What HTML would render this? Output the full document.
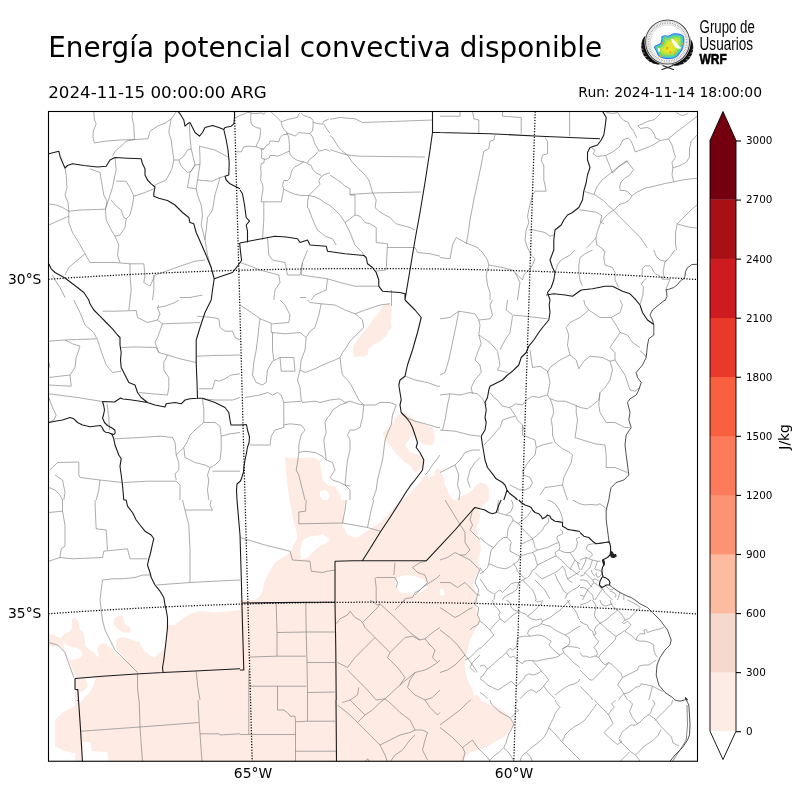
<!DOCTYPE html>
<html><head><meta charset="utf-8"><style>
html,body{margin:0;padding:0;background:#fff;width:800px;height:800px;overflow:hidden}
svg{display:block}
text{font-family:"DejaVu Sans","Liberation Sans",sans-serif;fill:#000}
</style></head><body>
<svg width="800" height="800" viewBox="0 0 800 800">
<rect width="800" height="800" fill="#fff"/>
<text x="48.2" y="56.6" font-size="27.83">Energía potencial convectiva disponible</text>
<text x="48.2" y="97.6" font-size="16.70">2024-11-15 00:00:00 ARG</text>
<text x="762" y="97" font-size="13.93" text-anchor="end">Run: 2024-11-14 18:00:00</text>
<defs><clipPath id="mc"><rect x="48.5" y="111.5" width="649" height="649.75"/></clipPath></defs>
<g clip-path="url(#mc)">
<path fill="#fdebe4" stroke="none" d="M290.0,500.0 L322.5,500.0 L322.5,502.5 L340.0,502.5 L342.5,500.0 L345.0,500.0 L342.5,523.8 L350.0,535.0 L357.5,537.5 L365.0,532.5 L375.0,530.0 L380.0,525.0 L390.0,512.5 L400.0,500.0 L440.0,500.0 L440.0,700.0 L240.0,700.0 L240.0,610.0 L245.0,607.5 L255.0,600.0 L261.2,595.0 L265.0,580.0 L272.5,567.5 L281.2,558.8 L290.0,552.5 L297.5,537.5 L295.0,525.0 L292.5,510.0Z M440.0,500.0 L487.5,500.0 L480.0,507.5 L475.0,512.5 L477.5,525.0 L475.0,532.5 L480.0,540.0 L481.2,550.0 L477.5,560.0 L480.0,570.0 L476.2,575.0 L472.5,585.0 L475.0,590.0 L477.5,600.0 L475.0,605.0 L477.5,612.5 L480.0,622.5 L475.0,630.0 L470.0,640.0 L467.5,650.0 L465.0,660.0 L465.0,670.0 L467.5,680.0 L472.5,690.0 L475.0,700.0 L440.0,700.0Z M166.2,625.0 L175.0,625.0 L182.5,618.8 L190.0,613.8 L200.0,611.2 L215.0,612.5 L230.0,611.2 L240.0,610.0 L240.0,668.8 L162.5,672.5 L165.0,650.0 L167.5,637.5Z M75.0,678.0 L162.5,672.5 L240.0,668.8 L240.0,762.0 L115.0,762.0 L107.5,757.5 L100.0,750.0 L92.5,740.0 L82.5,732.5 L81.2,730.0 L80.0,700.0 L83.8,696.2 L90.0,687.5 L93.8,678.0Z M55.0,720.0 L62.5,712.5 L70.0,708.8 L77.5,703.8 L80.0,705.0 L81.2,752.5 L72.5,753.0 L62.5,750.0 L55.0,746.2Z M240.0,600.0 L440.0,600.0 L440.0,762.0 L240.0,762.0Z M440.0,699.5 L477.5,695.0 L481.2,700.0 L490.0,705.0 L497.5,707.5 L505.0,712.5 L510.0,717.5 L512.5,722.5 L515.0,725.0 L510.0,730.0 L505.0,736.2 L497.5,740.0 L490.0,745.0 L485.0,747.5 L477.5,750.0 L470.0,752.5 L465.0,757.5 L463.8,762.0 L440.0,762.0Z M285.0,457.5 L297.5,458.0 L315.0,457.5 L320.0,461.2 L321.2,470.0 L322.5,480.0 L327.5,485.0 L335.0,486.2 L340.0,495.0 L342.5,505.0 L343.8,520.0 L342.5,527.5 L350.0,535.0 L357.5,537.5 L365.0,532.5 L372.5,527.5 L380.0,522.5 L390.0,512.5 L400.0,502.5 L410.0,492.5 L420.0,482.5 L425.0,475.0 L430.0,477.5 L440.0,472.5 L440.0,600.0 L262.5,600.0 L263.8,587.5 L267.5,575.0 L275.0,562.5 L282.5,557.5 L290.0,552.5 L295.0,550.0 L297.5,540.0 L298.8,525.0 L293.8,522.5 L291.2,510.0 L288.8,495.0 L286.2,475.0Z M382.5,432.5 L390.0,427.5 L397.5,415.0 L405.0,412.5 L415.0,420.0 L425.0,425.0 L432.5,427.5 L435.0,437.5 L432.5,445.0 L426.2,445.0 L420.0,442.5 L415.0,435.0 L410.0,437.5 L405.0,445.0 L410.0,452.5 L420.0,455.0 L425.0,462.5 L420.0,470.0 L415.0,472.5 L410.0,465.0 L405.0,462.5 L400.0,457.5 L395.0,452.5 L390.0,445.0 L385.0,440.0Z M75.0,678.5 L240.0,669.0 L240.0,762.0 L75.0,762.0Z M382.0,306.5 L389.0,303.0 L391.5,306.0 L391.5,319.0 L390.0,321.0 L392.0,327.0 L388.0,331.0 L387.0,335.0 L380.0,342.0 L374.0,344.0 L368.0,350.0 L368.0,354.0 L365.0,356.5 L354.0,356.5 L353.0,352.0 L353.0,346.0 L356.0,342.0 L360.0,336.0 L364.0,332.0 L368.0,327.0 L372.0,321.0 L376.0,316.0 L380.0,311.0Z M420.0,482.5 L425.0,483.1 L430.0,481.9 L433.8,477.5 L435.0,471.2 L437.5,467.5 L440.0,471.2 L442.5,475.0 L445.0,480.0 L443.8,483.8 L446.2,487.5 L448.8,493.8 L451.2,497.5 L453.8,501.2 L457.5,498.8 L461.2,496.2 L467.5,493.8 L472.5,490.0 L476.2,485.0 L480.0,482.5 L485.0,483.8 L488.8,487.5 L488.8,493.8 L488.8,500.0 L485.0,503.8 L481.2,507.5 L478.8,510.0 L480.0,515.0 L478.8,521.2 L476.2,527.5 L477.5,533.8 L478.8,540.0 L420.0,540.0Z M48.8,634.0 L54.0,634.8 L57.0,637.0 L61.5,637.8 L64.5,634.0 L70.5,631.0 L72.0,626.5 L72.0,619.0 L75.8,617.5 L79.5,623.5 L78.8,626.5 L80.2,629.5 L84.0,634.0 L84.8,640.0 L85.5,646.0 L88.5,649.0 L93.0,652.0 L96.0,655.0 L97.5,658.0 L99.0,655.0 L97.5,649.0 L99.0,644.5 L105.0,643.0 L108.0,646.0 L112.5,649.0 L114.0,652.0 L117.0,655.0 L123.0,658.0 L129.0,662.5 L133.5,667.0 L138.0,671.5 L138.0,673.8 L75.0,677.8 L72.8,670.0 L70.5,664.0 L67.5,658.0 L64.5,653.5 L61.5,647.5 L57.0,646.0 L52.5,646.8 L48.8,646.0Z M114.0,619.0 L118.5,616.0 L123.0,616.0 L124.5,623.5 L130.5,628.0 L130.5,632.5 L123.0,632.5 L118.5,629.5 L114.0,625.0Z M117.0,638.5 L123.0,637.0 L129.0,638.5 L135.0,641.5 L139.5,641.5 L141.0,646.0 L144.0,650.5 L150.0,655.0 L154.5,658.0 L159.0,653.5 L164.2,649.0 L164.2,671.8 L138.0,673.0 L129.0,662.5 L121.5,655.0 L117.0,650.5 L115.5,646.0Z"/>
<path fill="#fff" stroke="none" d="M301.2,560.0 L300.0,550.0 L302.5,540.0 L315.0,537.5 L322.5,533.8 L330.0,540.0 L322.5,543.8 L315.0,550.0 L307.5,557.5Z M396.2,580.0 L402.5,576.2 L412.5,577.5 L420.0,582.5 L423.8,590.0 L415.0,595.0 L405.0,592.5 L397.5,590.0Z M440.0,588.8 L443.8,590.0 L445.0,593.8 L442.5,596.2 L440.0,595.0Z M320.0,491.2 L326.2,490.0 L330.0,495.0 L327.5,500.0 L322.5,500.0 L320.0,496.2Z M302.5,540.0 L310.0,536.2 L320.0,535.0 L328.8,537.5 L327.5,542.5 L322.5,545.0 L315.0,547.5 L307.5,552.5 L300.0,557.5 L301.2,547.5Z M342.5,525.0 L350.0,523.8 L357.5,527.5 L365.0,528.8 L360.0,533.8 L355.0,537.5 L347.5,535.0Z M397.5,577.5 L405.0,575.0 L415.0,576.2 L425.0,580.0 L427.5,587.5 L420.0,592.5 L410.0,593.8 L400.0,592.5 L395.0,585.0Z M85.3,678.1 L96.0,678.1 L93.8,684.6 L90.4,691.4 L84.8,697.0 L79.7,703.8 L78.6,692.5 L84.2,690.8 L87.6,685.8Z M82.5,742.0 L90.4,742.0 L91.5,751.0 L107.2,752.0 L108.4,762.0 L82.5,762.0Z M63.0,640.8 L66.8,645.2 L70.5,646.8 L78.0,648.2 L82.8,652.3 L81.3,657.7 L75.3,659.2 L72.0,660.2 L67.8,657.7 L64.8,652.3Z"/>
<path fill="none" stroke="#737373" stroke-width="0.6" stroke-linejoin="round" d="M93.8,112.0 L94.5,120.0 L96.2,123.8 L93.2,131.2 L93.0,137.5 L94.5,143.0 L105.0,141.2 L120.0,140.0 L134.5,139.5 L148.0,138.8 M132.5,112.0 L132.0,117.5 L133.8,125.0 L134.5,139.5 M148.0,138.8 L150.0,131.2 L157.5,126.2 L166.2,122.5 L171.2,118.8 L176.2,112.0 M171.2,118.8 L169.5,127.5 L168.8,132.5 L171.2,140.0 L172.5,150.0 L173.8,160.0 L172.0,168.8 L166.2,180.0 L157.5,183.8 L153.8,186.2 M173.8,160.0 L178.8,160.0 L183.8,156.2 L187.5,150.0 L191.2,148.8 L193.8,160.0 L195.0,165.0 M178.8,160.0 L181.2,166.2 L187.5,172.5 L191.2,171.2 L195.0,165.0 M189.5,123.8 L190.0,137.5 L191.2,148.8 M195.0,165.0 L200.0,164.5 L200.0,157.5 L199.5,146.2 M199.5,146.2 L215.0,150.0 L228.8,157.5 M200.0,164.5 L197.5,180.0 L212.5,181.2 L220.0,177.5 L225.0,176.2 M195.0,165.0 L190.0,172.5 L187.5,187.5 L196.2,188.8 L197.5,180.0 M196.2,188.8 L197.5,195.0 L201.2,205.0 L202.5,215.0 L201.2,225.0 L203.8,235.0 L205.0,240.0 M220.0,177.5 L215.0,195.0 L212.5,210.0 L207.5,217.5 L206.2,230.0 L205.0,240.0 L207.5,255.0 L211.2,267.5 M65.0,168.0 L66.2,175.0 L67.0,187.5 L65.0,195.0 L68.0,202.5 L68.8,211.2 M48.8,203.8 L56.2,205.0 L62.5,207.5 L68.8,211.2 L80.0,210.0 L105.5,209.2 M48.8,225.0 L60.0,220.0 L68.8,216.2 M68.8,211.2 L68.8,222.5 L72.5,232.5 L78.8,242.5 L85.0,253.8 L90.0,262.5 L115.0,262.5 L130.0,263.8 L143.8,263.8 M85.0,253.8 L77.5,260.0 L68.8,267.5 L65.0,275.0 M90.0,168.8 L100.0,172.5 L102.0,185.0 L103.8,195.0 L107.0,201.2 L105.5,209.2 M115.0,157.5 L116.2,170.0 L115.0,175.0 L112.5,187.5 L108.8,198.8 L105.5,209.2 L106.2,220.0 L111.2,230.0 L115.0,236.2 L118.8,245.0 L117.5,255.0 L120.0,262.5 M116.2,181.2 L126.2,181.2 L131.2,190.0 L133.8,196.2 L132.5,205.0 L130.0,215.0 L126.2,218.8 M111.2,200.0 L115.0,205.0 L121.2,210.0 L123.8,217.5 L126.2,218.8 L125.0,227.5 L120.0,235.0 L115.0,236.2 M133.8,196.2 L145.0,192.5 L153.8,188.8 M130.0,263.8 L130.0,275.0 L131.2,290.0 L130.0,300.0 M143.8,263.8 L145.0,275.0 L143.8,282.5 L150.0,286.2 L155.0,275.0 L162.5,272.5 M162.5,272.5 L180.0,266.2 L195.0,261.2 L205.0,260.0 M153.8,275.0 L153.8,290.0 L152.5,300.0 M180.0,297.5 L190.0,297.5 L202.5,295.0 M52.5,275.0 L55.0,280.0 L60.0,287.5 L65.0,297.5 M112.5,156.2 L115.0,151.2 L122.5,145.0 L126.2,141.2 L134.5,139.5 M330.0,119.3 L340.0,117.5 L355.0,118.8 L362.5,122.5 L400.0,121.2 L432.5,120.0 M330.0,135.8 L332.5,137.5 L338.8,147.5 L342.5,151.2 L347.5,155.0 M330.0,149.6 L338.8,152.5 L347.5,155.0 M347.5,155.0 L360.0,156.2 L425.0,157.0 M347.5,155.0 L352.5,162.5 L357.5,167.5 L365.0,175.0 L368.8,180.0 L371.2,187.5 L372.5,192.5 L376.2,200.0 L375.0,207.5 L378.8,211.2 L385.0,215.0 L390.0,217.5 L396.2,223.8 L410.0,227.5 L415.0,230.0 M350.0,194.5 L372.5,193.0 L421.2,192.0 M330.0,175.0 L337.5,180.0 L341.2,182.5 L345.0,186.2 L350.0,188.8 L350.0,195.0 M330.0,205.9 L332.5,207.5 L340.0,215.0 L345.0,222.5 M308.5,208.0 L310.0,212.5 L313.8,222.5 L317.5,230.0 L325.0,236.2 L332.5,238.8 L336.2,245.0 M350.0,195.0 L355.0,195.0 L355.0,215.0 L345.0,222.5 M345.0,222.5 L350.0,232.5 L355.0,245.0 L362.5,252.5 L363.8,255.5 M355.0,215.0 L360.0,216.2 L365.0,222.5 L370.0,223.8 L376.2,227.5 L376.2,242.5 L387.5,243.8 L386.2,270.0 L375.0,271.2 M387.5,247.5 L415.0,247.5 M415.0,247.5 L417.5,252.5 L430.0,253.8 L440.0,256.2 M263.8,208.0 L263.8,220.0 L262.5,240.0 M267.5,237.5 L268.8,255.0 L272.5,260.0 L285.0,262.5 L287.5,275.0 L300.0,275.0 L302.5,262.5 L307.5,250.0 M302.5,262.5 L301.2,275.0 M240.0,262.5 L247.5,265.0 L260.0,270.0 L278.8,275.0 L280.0,282.5 L275.0,290.0 L273.8,300.0 M301.2,275.0 L327.5,278.8 L340.0,282.5 L355.0,286.2 L378.8,286.2 M327.5,278.8 L326.2,290.0 L315.0,295.0 L311.2,300.0 M300.0,297.5 L306.2,297.5 M440.0,116.2 L460.0,116.2 L460.0,111.2 M472.5,111.2 L473.8,118.8 L478.8,120.0 L478.8,133.8 M502.5,111.2 L502.5,116.2 L521.2,117.5 L521.2,133.8 M495.0,135.0 L493.8,140.0 L490.0,141.2 L488.8,148.8 L483.8,151.2 L481.2,165.0 L477.5,182.5 L473.8,200.0 L470.0,220.0 L467.5,237.5 L466.2,243.8 M545.0,137.5 L547.5,141.2 L547.5,153.8 L542.5,155.0 L541.2,161.2 L543.8,165.0 L543.8,180.0 L545.0,185.0 L546.2,191.2 L535.0,191.2 L532.5,195.0 L530.0,205.0 L528.8,210.0 L527.5,216.2 L528.8,222.5 L526.2,230.0 L525.0,240.0 L527.5,247.5 L531.2,255.0 L535.0,258.8 L532.5,265.0 L528.8,270.0 M528.8,230.0 L533.8,230.0 L545.0,232.5 L550.0,236.2 L553.8,235.0 M440.0,257.5 L450.0,258.8 L452.5,245.0 L456.2,237.5 L465.0,242.5 L477.5,247.5 L482.5,252.5 L487.5,260.0 L488.8,265.0 L502.5,267.5 L512.5,270.0 L522.5,280.0 L523.8,275.0 L528.8,270.0 M488.8,265.0 L486.2,275.0 L487.5,285.0 L490.0,292.5 L490.0,300.0 M515.0,272.5 L520.0,282.5 L518.8,290.0 L517.5,300.0 M575.0,250.0 L570.0,255.0 L561.2,260.0 L557.5,265.0 L555.0,272.5 M592.5,250.0 L585.0,253.8 L580.0,257.5 L578.8,265.0 L578.8,272.5 L580.0,280.0 L582.5,286.2 M602.5,250.0 L605.0,251.2 L603.8,257.5 L605.0,265.0 L612.5,267.5 L615.0,272.5 L615.0,280.0 L618.8,287.5 M653.8,250.0 L656.2,256.2 L660.0,260.0 L665.0,261.2 L667.5,260.0 M667.5,260.0 L675.0,250.0 M667.5,260.0 L664.8,262.0 L664.0,267.0 L663.2,271.8 L664.0,277.0 L662.5,279.2 L670.0,279.2 L668.5,283.0 L665.9,289.8 M640.0,276.2 L642.2,274.0 L642.2,268.8 L645.2,265.8 L649.8,265.8 L652.0,268.0 L653.5,271.8 L655.8,274.0 L659.5,275.9 L662.5,279.2 M646.8,277.8 L643.0,281.5 L641.5,284.5 L643.4,286.8 L643.0,295.0 L640.8,301.8 L640.0,304.0 M73.8,300.0 L80.0,312.5 L85.0,325.0 L93.8,332.5 L97.5,340.0 L100.0,347.5 L102.5,355.0 L106.2,365.0 L112.5,372.5 L121.2,371.2 M130.0,300.0 L128.8,310.0 M102.5,311.2 L115.0,311.2 L136.2,310.5 L137.5,317.5 L142.5,320.0 L147.5,322.5 L157.5,320.0 L160.0,313.8 L157.5,307.5 L158.8,305.0 M157.5,307.5 L165.0,306.2 L175.0,302.5 L178.8,300.0 M157.5,320.0 L162.5,323.8 L200.0,322.5 M162.5,323.8 L161.2,327.5 L157.5,337.5 L155.0,342.5 L158.8,352.5 L167.5,355.0 L180.0,358.8 L196.2,362.5 M121.2,347.5 L135.0,347.0 L156.2,347.5 L158.8,352.5 M167.5,355.0 L163.8,362.5 L163.8,370.0 L168.8,377.5 L168.8,387.5 L167.5,395.0 M138.8,392.5 L152.5,393.8 L167.5,395.0 M48.8,341.2 L65.0,340.0 L96.2,338.8 M65.0,340.0 L72.5,343.8 L80.0,346.2 L76.2,357.5 L75.0,367.5 L70.0,375.0 L48.8,377.5 M70.0,375.0 L71.2,386.2 L48.8,385.0 M48.8,362.5 L50.0,367.5 M48.8,393.8 L77.5,397.5 L102.2,401.5 M48.8,397.5 L52.5,407.5 L56.2,415.0 L53.8,420.0 L48.8,422.5 M196.2,356.2 L215.0,355.5 L240.0,355.0 M197.5,316.2 L212.5,317.5 L218.8,318.8 L220.0,327.5 L225.0,331.2 L232.5,331.2 L235.0,337.5 L240.0,340.0 M198.8,388.8 L212.5,388.8 L215.0,380.0 L218.8,381.2 L225.0,378.8 L231.2,375.0 L240.0,373.8 M202.5,398.8 L215.0,400.0 L232.5,400.0 L240.0,397.5 M202.5,398.2 L203.8,410.0 L203.8,422.5 L195.0,430.0 L190.0,435.0 L187.5,441.2 L183.8,447.5 L176.2,455.0 L178.8,462.5 L178.8,470.0 L175.0,473.8 L176.2,480.0 M203.8,422.5 L215.0,422.5 L220.0,426.2 L221.2,436.2 L221.2,450.0 L220.0,460.0 L215.0,465.0 L210.0,467.5 L207.5,475.0 L208.8,480.0 L207.5,490.0 L208.8,500.0 M183.8,447.5 L185.0,457.5 L195.0,462.5 L205.0,465.0 L210.0,467.5 M221.2,436.2 L230.0,433.8 L240.0,432.5 M212.5,471.2 L240.0,471.2 M115.0,438.8 L140.0,437.5 L160.0,436.2 L172.5,437.5 L175.0,442.5 L176.2,455.0 M123.8,482.5 L147.5,481.2 L176.2,481.2 L180.0,485.0 L180.0,500.0 M50.0,470.0 L57.5,462.5 L78.8,462.0 L78.8,475.0 L80.0,477.5 L100.0,480.0 L122.5,482.5 M55.0,475.0 L62.5,480.0 L65.0,492.5 L63.8,500.0 M100.0,480.0 L98.8,490.0 L96.2,500.0 M48.8,487.5 L55.0,490.0 L60.0,495.0 L62.5,500.0 M107.0,403.8 L108.8,417.5 L109.5,430.0 M240.0,305.0 L255.0,315.0 L260.0,318.8 L258.8,327.5 L257.5,340.0 L256.2,350.0 L253.8,362.5 L252.5,375.0 L256.2,382.5 L262.5,385.0 L266.2,382.5 L267.5,370.0 L272.5,361.2 L280.0,357.5 M280.0,300.0 L285.0,305.0 L290.0,315.0 L288.8,322.5 L272.5,323.8 L260.0,318.8 M307.5,300.0 L310.0,302.5 L321.2,303.8 L335.0,305.0 L345.0,310.0 L355.0,313.8 L365.0,310.0 L380.0,305.0 L390.0,303.8 M321.2,303.8 L318.8,315.0 L315.0,327.5 L310.0,331.2 L306.2,337.5 L305.0,350.0 L301.2,360.0 L300.0,370.0 M271.2,323.8 L271.2,332.5 L285.0,333.8 L300.0,332.5 L306.2,337.5 M272.5,332.5 L272.5,350.0 L273.8,360.0 M280.0,357.5 L293.8,357.5 L295.0,371.2 L281.2,371.2 L280.0,357.5 M300.0,370.0 L305.0,372.5 L315.0,368.8 L322.5,365.0 L335.0,360.0 L340.0,357.5 M340.0,357.5 L341.2,367.5 L342.5,375.0 L347.5,380.0 L351.2,385.0 L355.0,392.5 L358.8,400.0 L363.8,405.0 L375.0,405.0 L380.0,402.5 L390.0,402.5 L396.2,405.0 M355.0,313.8 L362.5,320.0 L363.8,327.5 L356.2,335.0 L350.0,341.2 L346.2,347.5 L342.5,352.5 L340.0,357.5 M300.0,370.0 L297.5,380.0 L300.0,387.5 L301.2,400.0 L302.5,402.5 L315.0,401.2 L320.0,402.5 L330.0,400.0 L340.0,398.8 L345.0,402.5 L350.0,401.2 L357.5,403.8 L363.8,405.0 M245.0,397.5 L260.0,395.0 L267.5,392.5 L272.5,395.0 L277.5,392.5 L281.2,395.0 L283.8,402.5 L301.2,401.2 M283.8,402.5 L283.8,415.0 L283.8,427.5 L275.0,430.0 L271.2,436.2 L270.0,445.0 L250.0,445.0 M283.8,425.0 L290.0,423.8 L301.2,425.0 L305.0,430.0 L301.2,435.0 L298.8,445.0 L298.8,452.5 L305.0,451.2 L315.0,452.5 L322.5,456.2 L326.2,460.0 L332.5,462.5 L335.0,470.0 L330.0,477.5 L332.5,480.0 L340.0,482.5 L345.0,485.0 L350.0,486.2 M298.8,452.5 L297.5,462.5 L296.2,470.0 L298.8,475.0 L300.0,480.0 L302.5,490.0 L305.0,500.0 M363.8,405.0 L362.5,417.5 L360.0,427.5 L355.0,430.0 L350.0,430.0 L347.5,435.0 L350.0,440.0 L350.0,450.0 L347.5,460.0 L346.2,472.5 L345.0,485.0 L350.0,490.0 L350.0,500.0 M347.5,402.5 L340.0,405.0 L332.5,410.0 L330.0,415.0 L327.5,417.5 L325.0,422.5 L326.2,432.5 L323.8,440.0 L325.0,450.0 L326.2,460.0 M396.2,405.0 L392.5,415.0 L391.2,425.0 L388.8,430.0 L385.0,440.0 L383.8,450.0 L382.5,460.0 L380.0,470.0 L377.5,480.0 L376.2,490.0 L372.5,500.0 M405.0,376.2 L415.0,380.0 L427.5,382.5 L437.5,386.2 L440.0,386.2 M406.2,417.5 L415.0,421.2 L425.0,423.8 L437.5,427.5 L440.0,427.5 M440.0,455.0 L432.5,465.0 L427.5,472.5 L425.0,475.0 M440.0,318.8 L450.0,317.5 L458.8,311.2 L475.0,313.8 L478.8,320.0 L480.0,325.0 L478.8,335.0 L481.2,343.8 L477.5,352.5 L475.0,360.0 L480.0,365.0 L481.2,372.5 L475.0,380.0 L471.2,387.5 L472.5,393.8 M458.8,311.2 L456.2,325.0 L452.5,342.5 L448.8,360.0 L445.0,372.5 L440.0,375.0 M478.8,320.0 L490.0,318.8 L492.5,315.0 L490.0,305.0 L492.5,300.0 M507.5,300.0 L506.2,310.0 L512.5,315.0 L525.0,316.2 L547.5,318.8 M478.8,335.0 L490.0,342.5 L497.5,351.2 L500.0,365.0 L497.5,370.0 L507.5,372.5 M512.5,316.2 L510.0,332.5 L505.0,340.0 L500.0,350.0 M583.8,300.0 L585.0,305.0 L588.8,310.0 L580.0,317.5 L570.0,322.5 L566.2,327.5 L568.8,335.0 L567.5,345.0 L570.0,355.0 L576.2,360.0 L578.8,368.8 L583.8,361.2 L590.0,356.2 L602.5,357.5 L610.0,361.2 L612.5,370.0 L610.0,380.0 L605.0,387.5 L600.0,392.5 L598.8,400.0 L592.5,405.0 L587.5,408.8 L580.0,407.5 L575.0,405.0 L565.0,401.2 L557.5,401.2 L550.0,398.8 L547.5,395.0 M588.8,310.0 L600.0,317.5 L611.2,317.5 L620.0,312.5 L622.5,305.0 L620.0,300.0 M611.2,317.5 L617.5,327.5 L620.0,332.5 L615.0,340.0 L610.0,347.5 L615.0,352.5 L615.0,360.0 L610.0,361.2 M620.0,332.5 L627.5,335.0 L632.5,342.5 L640.0,347.5 M615.0,360.0 L620.0,367.5 L625.0,375.0 L630.0,390.0 L635.0,391.2 L640.0,387.5 M570.0,355.0 L560.0,360.0 L550.0,367.5 L547.5,372.5 M530.0,350.0 L532.5,367.5 L540.0,366.2 L547.5,371.2 L550.0,382.5 L547.5,395.0 L538.8,397.5 L532.5,396.2 L526.2,400.0 M490.0,392.5 L493.8,397.5 L497.5,400.0 L502.5,406.2 L508.8,407.5 L512.5,406.2 L515.0,403.8 L522.5,405.0 L526.2,400.0 M510.0,407.5 L515.0,415.0 L517.5,420.0 L522.5,425.0 L523.8,430.0 M515.0,416.2 L510.0,417.5 L502.5,420.0 L500.0,427.5 L497.5,430.0 L492.5,436.2 L487.5,441.2 L483.8,445.0 M522.5,425.0 L522.5,435.0 L535.0,440.0 L536.2,447.5 L535.0,455.0 L530.0,460.0 L526.2,465.0 L523.8,470.0 M550.0,398.8 L552.5,405.0 L553.8,412.5 L551.2,420.0 L552.5,427.5 L552.5,435.0 L555.0,442.5 L562.5,448.8 L570.0,452.5 L572.5,455.0 L571.2,462.5 L567.5,470.0 L563.8,477.5 L562.5,485.0 L565.0,492.5 L567.5,500.0 M552.5,442.5 L542.5,445.0 L536.2,447.5 M576.2,405.0 L576.2,412.5 L577.5,420.0 L576.2,430.0 L575.0,437.5 L582.5,440.0 L595.0,443.8 L605.0,445.0 L606.2,455.0 L606.2,467.5 L615.0,467.5 L627.5,472.5 M600.0,392.5 L598.8,405.0 L600.0,412.5 L606.2,422.5 L615.0,422.5 L625.0,427.5 L630.0,427.5 M440.0,395.0 L450.0,393.8 L460.0,395.0 L470.0,392.5 L477.5,393.8 L482.5,398.8 L486.2,405.0 M450.0,393.8 L447.5,405.0 L445.0,420.0 L442.5,430.0 M440.0,430.0 L455.0,431.2 L470.0,435.0 L480.0,436.2 M480.0,450.0 L472.5,450.0 L465.0,452.5 L460.0,460.0 L455.0,465.0 L445.0,470.0 L440.0,472.5 M455.0,465.0 L458.8,475.0 L457.5,485.0 L460.0,492.5 L458.8,500.0 M480.0,457.5 L475.0,462.5 L470.0,470.0 L467.5,480.0 L470.0,487.5 M522.5,470.0 L523.8,475.0 L530.0,477.5 L532.5,482.5 L530.0,487.5 L525.0,490.0 L520.0,490.0 L515.0,487.5 L510.0,485.0 M540.0,495.0 L545.0,487.5 L555.0,486.2 L562.5,485.0 M640.0,350.8 L643.8,353.8 L646.2,357.5 M48.8,512.5 L62.5,511.2 L62.5,500.0 M62.5,511.2 L65.0,525.0 L65.0,546.2 L61.2,548.8 L60.0,557.5 L48.8,561.2 M60.0,557.5 L72.5,558.8 L102.5,557.5 L103.8,551.2 L127.5,548.8 L130.0,558.8 L147.5,558.8 M95.0,500.0 L95.5,515.0 L96.2,528.8 L106.2,530.0 L107.5,550.0 M182.5,500.0 L185.0,510.0 L188.8,525.0 L190.0,550.0 L190.0,582.5 M185.0,510.0 L212.5,510.0 L210.0,505.0 L211.2,500.0 M156.2,585.0 L190.0,582.5 L215.0,581.2 L240.0,580.0 M150.0,575.0 L142.5,575.0 L135.0,577.5 L122.5,578.8 L112.5,578.8 L102.5,580.0 L101.2,590.0 L100.0,600.0 L101.2,610.0 L102.5,620.0 L105.0,630.0 L110.0,640.0 L115.0,650.0 L122.5,657.5 L130.0,665.0 L137.5,672.5 M48.8,642.5 L57.5,645.0 L65.0,652.5 L67.5,660.0 L71.2,670.0 L73.8,677.5 M137.5,673.8 L137.5,687.5 L138.8,700.0 M196.2,671.2 L197.5,685.0 L200.0,700.0 M306.2,500.0 L305.5,511.2 L298.8,512.0 L298.8,523.8 M298.8,523.8 L342.5,523.0 L367.5,527.5 L380.0,531.2 M342.5,523.0 L345.0,510.0 L346.2,500.0 M367.5,527.5 L371.2,510.0 L373.8,500.0 M240.0,537.5 L265.0,545.0 L290.0,551.2 L292.5,560.0 L310.0,561.2 L311.2,571.2 L322.5,572.5 L327.5,571.2 L335.0,570.0 M375.0,577.5 L376.2,587.5 L376.2,600.0 L376.8,602.0 M376.2,577.5 L395.0,577.5 L397.5,582.5 L396.2,587.5 M395.0,562.5 L393.8,575.0 M412.5,567.5 L420.0,562.5 L426.2,561.2 M412.5,567.5 L417.5,572.5 L425.0,575.0 L427.5,582.5 L420.0,590.0 L415.0,592.5 L412.5,597.5 L405.0,598.8 L402.4,602.0 M415.0,595.0 L422.5,587.5 L430.0,582.5 L437.5,577.5 L440.0,575.0 M440.0,560.0 L447.5,557.5 L455.0,552.5 L460.0,555.0 L470.0,560.0 L475.0,565.0 L480.0,570.0 M465.0,542.5 L470.0,550.0 L465.0,555.0 L460.0,555.0 M440.0,582.5 L450.0,582.5 L457.5,587.5 L465.0,582.5 L472.5,590.0 L477.5,595.0 M440.0,607.5 L447.5,612.5 L455.0,617.5 L460.0,615.0 L467.5,610.0 L472.5,607.5 M440.0,630.0 L450.0,637.5 L457.5,645.0 L465.0,655.0 L460.0,660.0 L455.0,665.0 M440.0,672.5 L447.5,670.0 L455.0,665.0 M465.0,655.0 L472.5,665.0 L477.5,672.5 M445.0,500.0 L458.8,522.5 L465.0,532.5 L465.0,542.5 M472.5,510.0 L470.0,520.0 L472.5,525.0 L470.0,530.0 L477.5,537.5 L480.0,539.5 M480.0,570.0 L477.5,575.0 L475.0,582.5 L478.8,590.0 L477.5,595.0 L476.2,600.0 L475.0,605.0 L478.8,607.5 L477.5,615.0 L480.0,620.0 M480.0,620.0 L477.5,625.0 L472.5,627.5 L470.0,630.0 M477.5,595.0 L480.0,595.0 M480.0,647.5 L477.5,650.0 L470.0,657.5 L465.0,660.0 M480.0,655.0 L472.5,662.5 L470.0,667.5 L475.0,672.5 M81.2,731.2 L140.0,727.0 L198.8,722.5 M139.2,700.0 L140.0,727.0 L142.5,762.0 M198.0,700.0 L199.2,722.5 L202.0,762.0 M200.0,733.8 L218.8,733.8 L220.0,735.0 L240.0,733.8 M276.2,603.8 L277.0,632.5 L277.0,656.2 M305.8,603.0 L306.2,632.5 L307.0,662.5 L307.5,692.5 L307.5,721.2 M277.0,632.5 L305.8,632.0 L335.0,632.0 M250.0,657.0 L277.0,656.2 L305.8,656.2 M307.0,662.5 L335.0,662.5 M250.0,686.2 L277.5,686.2 L306.2,686.2 M277.5,686.2 L277.5,710.0 L283.8,710.0 L288.8,713.8 L290.0,716.2 L295.0,716.2 L295.5,722.5 L295.5,762.0 M307.5,692.5 L335.0,692.0 M295.5,721.8 L307.5,721.2 L335.0,721.2 M295.5,751.2 L336.2,751.2 M240.0,734.5 L248.8,734.5 L295.5,734.5 M248.8,670.0 L248.8,734.5 M336.2,623.8 L340.0,618.8 L347.5,615.0 L350.0,611.2 L355.0,617.5 L360.0,620.0 L362.5,622.5 L365.0,627.5 L375.0,637.5 L390.0,652.5 M362.5,622.5 L377.5,607.5 L380.0,603.8 M375.0,637.5 L365.0,647.5 L355.0,657.5 L347.5,667.5 L337.5,662.5 M347.5,670.0 L357.5,680.0 L367.5,690.0 L376.2,700.0 L385.0,698.8 L400.0,685.0 L405.0,677.5 M390.0,652.5 L387.5,657.5 L397.5,667.5 L405.0,677.5 M390.0,652.5 L400.0,642.5 L405.0,637.5 L412.5,636.2 L420.0,640.0 L425.0,638.8 L432.5,632.5 L440.0,627.5 M400.0,685.0 L415.0,672.5 L425.0,670.0 L430.0,667.5 L437.5,662.5 L440.0,660.0 M415.0,672.5 L410.0,680.0 L407.5,687.5 L415.0,695.0 L425.0,700.0 L432.5,697.5 L440.0,690.0 M370.0,600.0 L377.5,605.0 L380.0,603.8 M395.0,610.0 L400.0,605.0 L405.0,600.0 M380.0,603.8 L395.0,617.5 L410.0,632.5 L420.0,640.0 M425.0,638.8 L430.0,645.0 L435.0,650.0 L432.5,657.5 L437.5,662.5 M337.5,705.0 L350.0,715.0 L360.0,725.0 L370.0,735.0 L380.0,745.0 L385.0,755.0 L387.5,762.0 M342.5,702.5 L350.0,700.0 L357.5,695.0 L358.8,687.5 M350.0,700.0 L357.5,707.5 L365.0,715.0 M357.5,722.5 L365.0,715.0 L372.5,710.0 L380.0,702.5 L385.0,698.8 M385.0,698.8 L392.5,705.0 L400.0,712.5 L410.0,720.0 L415.0,730.0 L422.5,730.0 L427.5,732.5 L425.0,740.0 L422.5,750.0 L427.5,760.0 M380.0,745.0 L390.0,740.0 L400.0,735.0 L410.0,732.5 L415.0,730.0 M390.0,762.0 L395.0,755.0 L402.5,750.0 L410.0,740.0 L415.0,735.0 M425.0,700.0 L430.0,707.5 L437.5,715.0 L440.0,712.5 M365.0,762.0 L367.5,758.8 L370.0,762.0 M440.0,725.0 L450.0,717.5 L460.0,710.0 L467.5,702.5 L470.8,700.0 M440.0,727.5 L452.5,737.5 L462.5,747.5 L465.0,752.5 L462.5,762.0 M462.5,747.5 L472.5,740.0 L477.5,747.5 L480.0,750.0 M391.5,290.0 L391.5,306.0 M498.8,500.0 L497.5,505.0 L498.8,510.0 L497.5,512.5 L501.2,513.8 L506.2,515.0 L511.2,516.2 L513.1,520.0 L511.9,522.5 L510.0,525.0 L508.1,528.8 L507.5,533.8 L506.9,537.5 L503.8,537.5 L498.8,541.2 L493.8,547.5 L488.8,545.0 L483.8,541.2 L480.0,537.5 M506.2,515.0 L511.2,511.2 L513.1,506.2 L512.5,502.5 L511.2,500.0 M513.1,520.0 L517.5,523.1 L520.0,525.0 L521.2,527.5 L525.0,531.2 L528.8,535.0 L532.5,538.8 M517.5,523.8 L521.2,521.2 L527.5,516.2 L531.2,510.6 M506.9,537.5 L510.0,540.0 L511.2,542.5 L510.0,547.5 L510.0,551.2 L515.0,553.8 L520.0,556.2 M520.0,556.2 L523.8,555.0 L527.5,553.8 L532.5,552.5 L535.0,551.2 L537.5,550.0 L542.5,548.8 L547.5,547.5 L550.0,546.2 L555.0,543.8 L558.8,542.5 M532.5,538.8 L533.8,542.5 L535.0,547.5 L537.5,550.0 M532.5,538.8 L527.5,541.2 L522.5,543.8 L521.2,543.8 M532.5,538.8 L537.5,535.0 L542.5,530.0 L545.0,525.0 L547.5,523.8 L548.8,521.2 L548.1,517.5 M547.5,500.0 L551.2,501.2 L555.0,503.8 L558.8,508.8 L561.2,513.8 L562.5,518.8 L563.1,522.5 M572.5,500.0 L580.0,503.8 M560.0,528.8 L562.5,531.2 L562.5,533.8 L560.0,535.0 L557.5,536.2 L556.9,538.8 L558.8,542.5 M558.8,542.5 L560.0,547.5 L558.8,550.0 L555.0,552.5 L556.2,556.2 M558.8,550.0 L565.0,552.5 L570.0,552.5 L573.8,551.2 L576.2,547.5 L577.5,542.5 L576.2,538.8 L578.8,537.5 L580.0,537.5 M570.0,552.5 L572.5,556.2 L575.0,560.0 L577.5,562.5 L580.0,563.8 M532.5,552.5 L535.0,556.2 L536.2,561.2 L537.5,565.0 L535.0,568.8 L532.5,570.0 L530.0,575.0 L527.5,577.5 L525.0,578.8 L522.5,580.0 L518.8,582.5 M537.5,565.0 L542.5,562.5 L547.5,560.0 L552.5,557.5 L555.0,556.2 L556.2,556.2 M556.2,556.2 L561.2,560.0 L565.0,563.8 L567.5,566.2 L570.0,568.8 L572.5,570.0 M535.0,572.5 L537.5,575.0 L540.0,577.5 L542.5,578.8 L547.5,576.2 L552.5,573.8 L557.5,571.2 L562.5,566.2 M555.0,573.8 L557.5,580.0 L561.2,586.2 L563.8,591.2 L567.5,593.8 M522.5,580.0 L526.2,583.8 L530.0,587.5 L532.5,590.0 L535.0,595.0 L536.2,600.0 M535.0,580.0 L540.0,585.0 L545.0,590.0 L547.5,595.0 L550.0,598.8 M518.8,582.5 L515.0,582.5 L511.2,583.8 L508.8,586.2 L505.0,590.0 L502.5,592.5 L500.0,590.0 L497.5,591.2 L495.0,593.8 L493.8,600.0 M518.8,582.5 L517.5,587.5 L516.2,590.0 L512.5,592.5 L507.5,595.0 L503.8,597.5 L502.5,600.0 M520.0,556.2 L518.8,560.0 L516.2,562.5 L513.8,563.8 L511.2,566.2 L508.8,567.5 L505.0,568.8 L501.2,568.1 L497.5,567.5 L492.5,565.0 L488.8,563.8 M493.8,547.5 L491.2,550.0 L490.0,556.2 L488.8,563.8 L487.5,567.5 L482.5,572.5 L480.0,573.8 M513.8,563.8 L516.2,567.5 L517.5,571.2 L520.0,573.8 L522.5,576.2 L525.0,578.8 M480.0,567.5 L481.2,570.0 L483.8,572.5 M480.0,578.8 L482.5,582.5 L485.0,586.2 L487.5,590.0 L491.2,592.5 L493.8,593.8 M562.5,566.2 L565.0,570.0 L566.2,575.0 L567.5,578.8 L570.0,581.2 L572.5,582.5 M572.5,570.0 L575.0,572.5 L578.8,575.0 M567.5,578.8 L572.5,576.2 L576.2,573.8 L580.0,571.2 M567.5,593.8 L572.5,590.0 L577.5,587.5 L580.0,585.0 M575.0,560.0 L572.5,565.0 L570.0,568.8 M577.5,562.5 L578.8,567.5 L580.0,570.0 M565.0,598.8 L567.5,593.8 M580.0,503.8 L585.0,505.0 L590.0,504.4 L596.2,505.0 L600.0,503.8 L605.0,507.5 L607.5,510.0 M587.5,545.0 L592.5,543.8 L596.2,543.8 M587.5,545.0 L586.2,548.8 L588.8,551.2 L591.2,552.5 L592.5,555.0 L590.0,557.5 L588.8,558.8 L592.5,560.0 L597.5,561.2 L600.6,561.2 M580.0,560.0 L582.5,558.8 L586.2,557.5 L588.8,558.8 M586.2,557.5 L585.6,561.2 L583.8,565.0 L582.5,567.5 L581.2,570.0 M592.5,560.0 L591.2,563.8 L590.0,567.5 L587.5,570.0 L585.0,572.5 L583.8,575.0 L580.0,576.2 M596.2,570.0 L598.8,570.0 L601.2,571.2 L601.9,573.8 L600.0,576.2 L597.5,577.5 L596.2,575.0 L596.2,572.5 M585.0,572.5 L587.5,575.0 L590.0,577.5 L592.5,580.0 L593.8,582.5 M591.2,570.0 L592.5,573.8 L595.0,576.2 M580.0,580.0 L583.8,580.0 L587.5,581.2 L590.0,585.0 L592.5,587.5 M592.5,580.0 L595.0,578.8 L598.8,581.2 M580.0,587.5 L583.8,587.5 L587.5,590.0 M593.8,582.5 L591.2,586.2 L587.5,590.0 L585.0,595.0 L582.5,600.0 M593.8,582.5 L597.5,585.0 L600.0,587.5 L602.5,588.8 M602.5,588.8 L600.0,592.5 L597.5,596.2 L595.0,600.0 M602.5,588.8 L605.0,592.5 L607.5,595.0 L610.0,597.5 L612.5,600.0 M606.2,586.2 L608.8,588.8 L611.2,590.0 L613.8,588.8 M610.0,591.2 L613.8,592.5 L616.2,595.0 L615.0,597.5 M620.0,592.5 L618.8,596.2 L617.5,600.0 M623.8,595.0 L623.8,600.0 M587.5,590.0 L590.0,592.5 L592.5,595.0 L593.8,600.0 M580.0,595.0 L583.8,596.2 M597.5,561.2 L596.2,565.0 L595.0,568.8 L596.2,570.0 M492.5,600.0 L493.8,605.0 L498.8,610.0 L500.0,612.5 L498.8,615.0 L500.0,618.8 L505.0,622.5 L510.0,617.5 L515.0,613.8 L518.8,611.2 M480.0,621.2 L485.0,625.0 L490.0,630.0 L493.8,635.0 L490.0,638.8 L485.0,643.8 L480.0,648.8 M500.0,618.8 L495.0,623.8 L490.0,630.0 M506.2,600.0 L510.0,602.5 L511.2,607.5 L513.8,610.0 L517.5,611.2 L518.8,611.2 M518.8,611.2 L521.2,612.5 L525.0,613.8 L527.5,616.2 L531.2,618.8 L536.2,620.0 L541.2,618.8 L542.5,621.2 L541.2,623.8 L545.0,625.0 L550.0,626.2 L555.0,630.0 L560.0,632.5 L565.0,635.0 L568.8,637.5 L570.0,641.2 L568.8,645.0 L565.0,647.5 L562.5,648.8 L563.8,652.5 L560.0,655.0 M527.5,616.2 L532.5,612.5 L537.5,607.5 L541.2,603.8 L542.5,600.0 M541.2,623.8 L537.5,626.2 L532.5,627.5 L528.8,630.0 L527.5,633.8 L530.0,636.2 L537.5,635.0 L542.5,635.6 L547.5,638.8 L551.2,641.2 L548.8,645.0 L552.5,648.8 L556.2,652.5 L560.0,655.0 M542.5,621.2 L550.0,617.5 L555.0,613.8 L560.0,610.0 L565.0,605.0 L567.5,602.5 L570.0,600.0 M567.5,600.0 L570.0,605.0 L575.0,610.0 L577.5,615.0 L578.8,618.8 L580.0,620.0 M565.0,635.0 L570.0,632.5 L575.0,628.8 L580.0,626.2 M517.5,637.5 L523.8,636.2 L530.0,636.2 M517.5,637.5 L516.9,643.8 L516.2,647.5 L512.5,650.0 L510.0,648.1 L506.2,652.5 L510.0,657.5 L513.8,656.2 L516.2,658.8 L518.8,661.2 L522.5,663.8 L523.8,661.2 L527.5,660.6 L532.5,660.6 L536.2,661.2 L541.2,660.0 L547.5,658.8 L555.0,657.5 L558.8,656.2 L560.0,655.0 M562.5,648.8 L567.5,646.2 L572.5,646.9 L577.5,647.5 L580.0,648.8 M563.8,652.5 L567.5,656.2 L571.2,660.0 L575.0,663.8 L580.0,667.5 M506.2,652.5 L502.5,656.2 L497.5,660.0 L492.5,665.0 L487.5,668.8 L483.8,665.0 L480.0,666.2 M487.5,668.8 L485.0,672.5 L482.5,676.2 L480.0,677.5 M480.0,678.8 L483.8,681.2 L487.5,685.0 L492.5,687.5 L497.5,690.0 L500.0,688.8 L503.8,686.2 L507.5,683.8 L511.2,681.2 L515.0,685.0 L516.2,686.2 M532.5,660.6 L536.2,665.0 L540.0,668.8 L541.2,671.2 L537.5,673.8 L532.5,675.0 L528.8,673.8 L525.0,676.2 L523.8,678.8 L520.0,682.5 L517.5,685.0 L516.2,686.2 M541.2,671.2 L545.0,675.0 L548.8,680.0 L546.2,682.5 L543.8,686.2 L540.0,690.0 L536.2,692.5 L532.5,690.0 L530.0,690.0 L526.2,692.5 L522.5,696.2 L520.0,698.8 M543.8,686.2 L547.5,691.2 L551.2,695.0 L555.0,698.8 M555.0,695.0 L560.0,691.2 L565.0,687.5 L570.0,685.0 L575.0,683.8 L578.8,681.2 L580.0,678.8 M480.0,692.5 L483.8,695.0 L487.5,698.8 M535.0,600.0 L537.5,601.9 L541.2,601.2 M580.0,605.0 L583.8,603.8 L587.5,602.5 L591.2,600.0 M592.5,600.0 L595.0,603.8 L596.2,607.5 L595.0,611.2 L594.4,615.0 L596.2,618.8 L600.0,623.1 M600.0,600.0 L601.2,603.8 L605.0,606.2 L608.8,605.0 L612.5,603.8 M610.0,600.0 L611.2,603.8 L613.8,607.5 L617.5,610.0 M617.5,610.0 L621.2,613.8 L623.8,617.5 L625.0,620.0 L622.5,622.5 L623.8,623.8 L627.5,621.2 L631.2,625.0 L627.5,628.8 L623.8,631.2 L620.0,633.8 L616.2,636.2 M617.5,610.0 L615.0,612.5 L611.2,615.0 L607.5,618.8 L603.8,621.2 L600.0,623.1 M627.5,600.0 L632.5,602.5 L637.5,605.0 L640.0,607.5 L637.5,610.0 L632.5,615.0 L628.8,618.8 L625.0,620.0 M580.0,621.2 L583.8,623.8 L587.5,625.0 L588.8,628.8 L592.5,631.2 L593.8,635.0 L596.2,638.8 L598.8,641.2 L596.2,645.0 L593.8,647.5 L596.2,650.0 L597.5,653.8 L596.2,656.2 M600.0,623.1 L596.2,626.2 L594.4,630.0 L596.2,633.8 L593.8,635.0 M600.0,623.1 L603.8,626.2 L607.5,630.0 L611.2,632.5 L613.8,635.0 L616.2,636.2 M616.2,636.2 L615.0,640.0 L611.2,643.8 L607.5,647.5 L603.8,651.2 L600.0,655.0 L598.8,657.5 L601.2,661.2 L605.0,665.0 L608.8,662.5 L612.5,665.0 L616.2,668.8 L618.8,671.2 L621.2,673.8 L622.5,677.5 M625.0,631.2 L628.8,633.8 L632.5,636.2 L636.2,640.0 L640.0,641.2 L645.0,641.2 L650.0,642.5 L653.8,645.0 L653.8,650.0 L655.0,653.8 L657.5,657.5 M636.2,640.0 L637.5,636.2 L640.0,633.8 L645.0,633.8 L643.8,630.0 L646.2,629.4 L647.5,632.5 L651.2,631.2 L655.0,630.0 L660.0,628.8 L663.8,627.5 M580.0,652.5 L582.5,656.2 L586.2,656.2 L590.0,657.5 L593.8,656.2 L596.2,656.2 L598.8,657.5 M608.8,662.5 L605.0,667.5 L601.2,671.2 L597.5,675.0 L592.5,680.0 L590.0,680.0 L586.2,676.2 L582.5,672.5 L580.0,670.0 M622.5,677.5 L627.5,675.0 L632.5,672.5 L637.5,670.0 L638.8,666.2 L643.8,665.0 L648.8,665.0 L652.5,662.5 L656.2,660.0 M622.5,677.5 L620.0,681.2 L617.5,685.0 L620.0,687.5 L622.5,691.2 L623.8,693.8 L621.2,696.2 L618.8,700.0 M623.8,693.8 L628.8,692.5 L632.5,690.0 L635.0,687.5 L640.0,686.2 L641.2,683.8 L647.5,685.0 L652.5,686.2 L657.5,688.8 L662.5,691.2 M652.5,686.2 L651.2,691.2 L650.0,696.2 L648.8,700.0 M580.0,686.2 L583.8,690.0 L587.5,693.8 L591.2,697.5 L592.5,700.0 M623.8,693.8 L626.2,697.5 L627.5,700.0 M490.0,700.0 L491.2,703.8 L498.8,711.2 L505.0,715.0 L510.0,717.5 L513.8,723.8 M513.8,705.6 L518.8,710.6 L516.2,711.9 L512.5,716.2 L511.2,717.5 M516.2,702.5 L518.1,700.0 M513.8,723.8 L511.2,730.0 L508.8,733.8 L507.5,737.5 L506.2,742.5 L503.8,747.5 L498.8,752.5 L493.8,756.2 L490.0,760.0 L488.8,761.2 M555.4,700.0 L556.2,702.5 L560.0,707.5 L557.5,710.0 L555.0,713.8 L553.8,717.5 L551.2,722.5 L548.8,727.5 L547.5,731.2 L543.8,737.5 L540.0,741.2 L535.0,745.0 L530.0,748.8 L526.2,752.5 L523.8,753.8 L521.2,757.5 L520.0,761.2 M548.8,727.5 L555.0,733.8 L561.2,741.2 L567.5,747.5 L573.8,753.8 L580.0,760.0 M562.5,741.2 L565.0,735.0 L570.0,730.0 L575.0,726.2 L580.0,723.8 M526.2,752.5 L530.0,756.2 L532.5,761.0 M503.8,747.5 L507.5,751.2 L511.2,756.2 L513.8,761.0 M480.0,750.0 L483.8,753.8 L487.5,757.5 L490.0,761.0 M594.6,700.0 L596.5,702.5 L602.5,708.5 L608.5,714.5 L613.0,723.5 L604.0,732.5 L610.0,738.5 L617.5,744.5 L622.0,741.5 L619.0,738.5 L622.0,732.5 L625.0,729.5 L631.0,725.0 L635.5,725.0 L640.0,722.0 L644.5,717.5 L649.0,714.5 L655.0,719.0 L661.0,726.5 L667.0,732.5 L671.5,737.0 L673.0,743.0 L679.0,746.0 M580.0,723.5 L584.5,720.5 L589.0,714.5 L593.5,708.5 L596.5,704.0 M608.5,714.5 L611.5,710.0 L614.5,707.0 L611.5,704.0 L615.5,700.0 M628.5,700.0 L632.5,704.0 L631.0,708.5 L629.5,711.5 L632.5,717.5 L637.0,723.5 M652.2,700.0 L653.5,701.0 L655.0,704.0 L652.0,708.5 L650.5,713.0 L649.0,714.5 M655.0,720.5 L661.0,714.5 L667.0,708.5 L671.5,704.0 L672.8,700.0 M661.0,729.5 L659.5,732.5 L658.0,735.5 L653.5,740.0 L649.0,743.0 L644.5,746.0 L641.5,749.0 L637.0,753.5 L635.5,755.0 M619.0,740.0 L625.0,746.0 L631.0,752.0 L635.5,755.0 L640.0,761.0 M629.5,752.0 L625.0,756.5 L620.5,761.0 M569.6,111.8 L569.6,136.2 M606.4,112.6 L612.5,113.5 L617.8,112.6 L620.4,117.0 L623.9,120.5 L628.2,122.2 L630.0,126.6 L633.5,131.0 L635.2,134.5 L637.0,138.0 M591.5,147.6 L595.0,150.2 L593.2,153.8 L596.8,156.4 L605.5,155.5 L612.5,152.0 L619.5,146.8 L623.0,139.8 L628.2,138.0 L630.9,140.6 L633.5,146.8 L635.2,152.0 M605.5,155.5 L609.0,164.2 L612.5,173.0 M635.2,152.0 L642.2,149.4 L649.2,146.8 L654.5,144.1 L659.8,140.6 L668.5,138.9 M637.9,125.8 L642.2,124.0 L647.5,121.4 L654.5,119.6 L660.6,113.5 M637.9,125.8 L640.5,128.4 L647.5,127.5 L651.0,129.2 L654.5,134.5 L655.4,138.0 L659.8,139.8 M668.5,138.9 L675.5,132.8 L682.5,127.5 L689.5,122.2 L697.4,116.1 M676.4,112.6 L680.8,115.2 L684.2,115.2 L687.8,113.5 M668.5,138.9 L672.0,145.0 L673.8,152.0 L675.5,157.2 L672.0,162.5 L672.9,167.8 L672.0,174.8 L673.8,181.8 M672.9,167.8 L679.0,166.0 L686.0,162.5 L689.5,157.2 L689.5,148.5 L691.2,141.5 L697.4,134.5 M673.8,181.8 L682.5,180.0 L689.5,179.1 L697.4,178.2 M612.5,173.0 L619.5,166.0 L626.5,160.8 L633.5,169.5 L630.0,174.8 L624.8,178.2 L621.2,181.8 L619.5,187.0 L620.4,190.5 L624.8,190.5 L628.2,192.2 L631.8,195.8 L630.0,199.2 L628.2,201.0 L624.8,202.8 L619.5,204.5 L614.2,209.8 L609.0,213.2 L603.8,218.5 L600.2,223.8 L597.6,230.8 L595.9,237.8 L591.5,243.0 L586.2,248.2 M631.8,195.8 L637.0,192.2 L645.8,187.9 L651.0,187.0 L658.0,185.2 L665.0,183.5 L673.8,181.8 M628.2,160.8 L619.5,166.0 L610.8,173.0 L602.0,180.0 L596.8,187.0 L594.1,194.0 M584.5,191.4 L595.0,194.9 L603.8,201.0 L609.0,206.2 L614.2,210.6 L617.8,215.0 L623.0,220.2 L630.0,227.2 L635.2,232.5 L640.5,237.8 L644.0,243.0 L647.5,248.2 M579.2,209.8 L586.2,210.6 L596.8,212.4 L602.0,215.9 L600.2,222.0 L603.8,223.8 M595.9,237.8 L596.8,244.8 L602.0,248.2 L603.8,250.0 M697.4,204.5 L689.5,211.5 L682.5,218.5 L677.2,223.8 L675.5,232.5 L675.5,243.0 L676.4,250.0 M677.2,223.8 L682.5,225.5 L689.5,227.2 L697.4,228.1 M235.0,118.0 L240.0,115.5 L245.0,113.6 L247.5,112.4 L251.2,113.0 L255.0,113.6 L261.2,113.0 L263.8,114.2 L265.0,112.4 M251.2,113.0 L250.6,118.0 L251.2,123.0 L252.5,125.5 L255.0,126.8 L257.5,128.0 L260.0,128.0 L260.6,131.8 L260.0,136.8 L258.8,140.5 L256.9,144.2 L256.2,146.8 L261.2,148.6 L263.8,149.2 M235.0,151.8 L241.2,151.8 L242.5,149.2 L243.8,146.8 L248.8,146.1 L256.2,146.8 M271.2,112.4 L275.0,115.5 L278.8,119.2 L281.2,121.8 L288.8,119.2 L297.5,117.4 L298.8,114.2 L300.0,113.0 M281.2,121.8 L281.9,125.5 L283.8,129.2 L286.2,131.8 L287.5,133.6 M286.2,133.0 L288.8,133.6 L292.5,134.9 L295.0,136.1 L297.5,134.2 L298.8,132.4 L302.5,133.0 L310.0,133.6 L312.5,130.5 L313.1,125.5 L313.1,120.5 L311.2,118.0 L307.5,116.8 L303.8,115.5 L301.2,113.0 M313.1,122.4 L317.5,123.6 L322.5,124.2 L323.8,121.1 L328.8,119.2 M323.8,124.2 L326.2,128.0 L328.8,131.8 L330.0,133.0 M310.0,133.6 L312.5,136.8 L313.8,140.5 L315.0,144.2 L317.5,148.0 L318.8,151.1 L322.5,150.5 L325.0,149.2 L328.8,150.5 L330.0,151.8 M287.5,133.6 L288.8,138.0 L289.4,144.2 L289.4,150.5 L290.0,154.2 L292.5,157.4 L297.5,160.5 L303.8,161.8 M289.4,151.1 L285.0,153.0 L281.2,154.9 L277.5,156.1 L273.8,155.5 L270.0,155.5 L269.4,158.0 L266.2,159.2 L263.8,159.2 M287.5,134.2 L282.5,134.9 L280.0,138.0 L278.8,141.8 L273.8,141.1 L270.0,141.1 L268.8,144.2 L266.2,145.5 L263.8,149.2 M263.8,149.2 L261.2,149.2 L261.9,153.0 L261.2,158.0 L264.4,159.2 L263.8,163.0 L261.2,163.6 L260.6,168.0 L261.2,173.0 L260.6,180.5 L262.5,184.2 L263.1,189.2 L261.9,195.5 L261.2,201.8 L281.2,201.8 L282.5,195.5 L283.8,189.2 M303.8,161.8 L300.0,164.2 L295.0,166.8 L292.5,169.2 L291.2,173.0 L290.0,178.0 L287.5,180.5 L283.8,180.5 L282.5,185.5 L283.8,189.2 L288.8,191.8 L295.0,194.2 L301.2,195.5 L308.8,195.5 L313.8,190.5 L317.5,186.8 L320.0,184.2 L318.8,180.5 L321.2,176.8 L325.0,174.2 L330.0,173.0 M303.8,161.8 L307.5,163.6 L311.2,165.5 L312.5,169.2 L316.2,173.0 L321.2,175.5 M317.5,151.8 L315.0,155.5 L311.2,158.0 L308.8,160.5 L307.5,163.0 M308.8,195.5 L307.5,201.8 L307.5,208.0 M308.8,195.5 L315.0,196.8 L320.0,199.2 L325.0,203.0 L330.0,205.5 M263.8,201.8 L263.8,208.0"/>
<path fill="none" stroke="#555" stroke-width="0.7" stroke-linejoin="round" d="M687.0,705.0 L687.5,725.0 L686.2,740.0 L680.0,750.0 L672.5,761.2"/>
<path fill="none" stroke="#333" stroke-width="0.85" stroke-linejoin="round" d="M664.8,301.0 L667.0,296.5 L666.6,292.0 L665.9,289.8 L668.5,289.4 L673.8,287.5 L677.5,284.5 L680.5,280.8 L683.5,278.9 L685.0,276.2 L685.4,271.8 L687.2,268.0 L691.8,264.6 L698.0,264.2 M665.0,300.0 L660.0,303.8 L652.5,310.0 L650.0,315.0 L652.5,320.0 L653.8,325.0 L653.8,335.0 L648.8,338.8 L647.5,345.0 L646.2,357.5 L642.5,365.0 L636.2,372.5 L637.5,377.5 L641.2,382.5 L638.8,390.0 L636.2,395.0 L630.0,398.8 L627.5,402.5 L630.0,412.5 L628.8,420.0 L631.2,427.5 L626.2,435.0 L625.0,445.0 L626.2,455.0 L627.5,465.0 L628.8,475.0 L623.8,480.0 L616.2,482.5 L611.2,487.5 L610.0,492.5 L608.8,500.0 M635.0,600.0 L640.0,603.8 L647.5,607.5 L652.5,612.5 L660.0,620.0 L667.5,630.0 L671.2,640.0 L670.0,645.0 L665.0,650.0 L660.0,657.5 L657.0,665.0 L656.2,675.0 L658.8,685.0 L665.0,692.5 L672.5,697.5 L675.0,700.0 M608.8,500.0 L606.2,510.0 L606.2,520.0 L607.5,530.0 L608.8,540.0 L609.5,543.8 M675.0,700.0 L680.0,701.2 L686.2,699.5 L688.8,705.0 L689.5,715.0 L690.0,725.0 L689.5,735.0 L687.5,740.0 L682.5,747.5 L675.0,755.0 L670.0,761.2 M609.4,585.0 L612.5,587.5 L616.2,590.0 L620.0,592.5 L623.8,594.4 L627.5,596.2 L631.2,597.5 L635.0,600.0"/>
<path fill="none" stroke="#1a1a1a" stroke-width="1.1" stroke-linejoin="round" d="M48.8,153.8 L53.8,152.5 L58.8,151.2 L60.0,156.2 L62.5,162.5 L65.0,168.0 L67.5,165.5 L72.5,163.8 L83.8,165.5 L97.5,167.0 L106.2,166.2 L110.0,160.0 L115.0,157.5 L127.5,158.2 L141.2,158.8 L142.5,163.8 L145.0,168.8 L145.0,175.0 L147.5,180.0 L151.2,183.8 L155.0,187.0 L153.8,193.0 L153.8,196.2 L158.8,198.2 L167.5,200.5 L175.0,205.0 L182.5,212.5 L188.8,217.5 L190.0,222.5 L193.8,223.8 L196.2,232.5 L205.0,252.5 L211.2,267.5 L212.5,272.5 L214.2,278.8 L212.5,290.0 L211.2,300.0 M178.0,111.2 L180.0,113.8 L183.8,120.0 L185.0,126.2 L187.5,123.8 L190.0,122.5 L192.5,127.5 L195.0,132.5 L199.5,136.2 L202.5,132.5 L205.0,127.5 L212.5,125.5 L218.8,127.5 L223.8,129.5 L225.0,127.5 L231.2,126.2 L233.8,123.8 L234.5,117.5 L234.5,111.2 M223.8,129.5 L226.2,140.0 L228.0,150.0 L229.2,162.5 L228.8,175.0 L225.0,176.2 L226.2,180.0 L230.0,183.8 L235.0,186.2 L240.0,188.8 M48.8,263.8 L51.2,268.8 L55.0,272.5 L65.0,278.0 L77.5,287.5 L83.8,292.5 L88.8,300.0 M214.2,278.8 L225.0,275.0 L232.5,272.5 L237.5,266.2 L240.0,262.5 M432.5,132.5 L440.0,132.5 M240.0,190.0 L242.5,193.8 L244.5,205.0 L246.2,217.5 L249.5,221.2 L246.2,225.0 L247.5,231.2 L247.5,241.2 L247.0,242.5 M239.8,243.0 L255.0,240.0 L275.0,236.2 L286.2,237.0 L297.5,238.8 L300.0,242.5 L303.8,241.2 L307.5,240.0 L310.0,245.0 L326.2,246.2 L327.5,251.2 L345.0,253.8 L363.8,255.5 L366.2,257.5 L367.5,263.8 L372.5,267.5 L376.2,272.5 L378.8,280.0 L378.8,286.2 L382.5,291.2 L392.5,292.0 L400.0,292.5 L405.0,293.8 L405.0,300.0 M432.5,111.2 L432.5,132.5 L430.0,150.0 L425.0,182.5 L420.0,212.5 L415.0,240.0 L410.0,270.0 L406.2,292.5 L405.0,300.0 M438.8,132.5 L490.0,133.8 L540.0,136.2 L600.0,138.8 M602.5,111.2 L606.2,117.5 L605.0,127.5 L603.8,135.0 L601.2,140.0 L597.5,145.0 L590.0,147.5 L587.5,152.5 L587.5,160.0 L590.0,167.5 L587.5,175.0 L586.2,182.5 L583.8,191.2 L582.5,200.0 L578.8,207.5 L572.5,212.5 L567.5,215.0 L563.8,220.0 L561.2,225.0 L555.0,230.0 L553.8,240.0 L553.8,250.0 L550.0,260.0 L552.5,267.5 L555.0,272.5 L553.8,280.0 L551.2,287.5 L547.5,292.5 L550.0,300.0 M88.8,300.0 L90.0,303.8 L93.8,310.0 L100.0,316.2 L106.2,322.5 L112.5,328.8 L117.5,335.0 L120.0,337.5 L120.0,345.0 L121.2,352.5 L120.5,360.0 L121.2,367.5 L125.0,375.0 L128.8,382.5 L135.0,385.0 L137.5,392.5 L141.2,397.5 L147.5,402.5 M147.5,402.5 L155.0,405.0 L165.0,407.0 L166.2,403.8 L175.0,402.5 L181.2,403.8 L185.0,400.0 L190.0,398.8 L197.5,398.2 L202.5,398.2 L215.0,402.5 L225.0,407.5 L228.8,412.5 L230.0,420.0 L231.0,425.0 L240.0,425.0 L246.5,424.5 M211.2,300.0 L205.0,312.5 L200.0,327.5 L196.2,340.0 L196.2,362.5 L197.0,382.5 L197.5,398.2 M102.2,401.5 L114.5,402.0 L117.5,400.0 L120.5,398.0 L123.0,399.0 L130.0,399.8 L140.0,401.2 L147.5,402.5 M102.2,401.5 L103.5,404.5 L104.5,410.0 L103.5,415.0 L102.5,418.0 L104.5,422.5 L107.5,425.5 L112.0,428.0 L114.8,430.0 L115.2,433.0 L114.0,434.5 L111.5,433.8 M48.8,422.5 L55.0,421.2 L62.5,420.0 L70.0,417.5 L73.8,418.8 L77.5,422.5 L82.5,425.0 L90.0,426.8 L100.5,425.5 L102.5,428.0 L103.5,430.5 L105.5,432.2 L108.8,432.8 L111.2,433.8 L112.5,435.5 L113.8,438.8 L115.0,445.0 L118.8,455.0 L121.2,458.8 L120.0,466.2 L121.2,475.0 L122.5,485.0 L123.8,500.0 M405.0,300.0 L415.0,310.0 L421.2,317.5 L417.5,332.5 L412.5,350.0 L407.5,365.0 L405.0,376.2 L400.0,380.0 L398.8,385.0 L400.0,392.5 L401.2,400.0 L400.0,405.0 L401.2,412.5 L406.2,417.5 L410.0,422.5 L412.5,427.5 L415.0,435.0 L417.5,442.5 L416.2,447.5 L420.0,452.5 L423.8,460.0 L422.5,470.0 L418.8,475.0 L415.0,480.0 L410.0,486.2 L405.0,493.8 L401.2,500.0 M550.0,300.0 L549.2,305.0 L550.0,312.5 L548.8,320.0 L542.5,327.5 L538.8,332.5 L533.8,340.0 L528.8,346.2 L526.2,352.5 L521.2,357.5 L518.8,365.0 L512.5,371.2 L507.5,375.0 L502.5,380.0 L495.0,383.8 L490.0,386.2 L488.8,390.0 L487.5,397.5 L485.0,402.5 L486.2,410.0 L485.0,417.5 L486.2,422.5 L485.0,430.0 L481.2,436.2 L482.5,445.0 L483.8,452.5 L485.0,460.0 L487.5,467.5 L492.5,473.8 L496.2,478.8 L502.5,482.5 L505.0,485.0 L507.0,490.0 L510.0,493.8 L515.0,497.5 L517.5,500.0 M507.0,490.0 L505.5,495.0 L503.8,500.0 M123.8,500.0 L126.2,500.0 L127.5,506.2 L132.5,512.5 L136.2,520.0 L140.0,525.0 L145.0,531.2 L151.2,535.0 L153.8,538.8 L152.5,543.8 L151.2,550.0 L150.0,555.0 L148.8,558.8 L147.5,565.0 L150.0,572.5 L151.2,577.5 L155.0,585.0 L160.0,591.2 L163.8,597.5 L165.0,605.0 L166.2,610.0 L167.5,617.5 L167.5,627.5 L166.2,640.0 L165.0,650.0 L163.8,660.0 L162.5,667.5 L163.0,672.5 M75.0,678.5 L102.5,676.2 L140.0,673.8 L162.5,672.5 L190.0,671.2 L215.0,670.0 L240.0,668.8 M237.0,500.0 L240.0,535.0 L241.2,575.0 L242.5,625.0 L243.8,670.0 L240.0,670.0 M242.5,603.0 L335.0,602.0 M335.0,561.2 L335.0,602.0 L335.8,650.0 L336.2,700.0 M401.2,500.0 L390.0,517.5 L380.0,532.5 L370.0,548.8 L362.5,560.5 M335.0,561.2 L362.5,560.5 L426.2,560.8 L440.0,546.2 M440.0,546.2 L455.0,530.0 L472.5,510.0 L475.0,507.5 L480.0,508.8 M685.0,697.5 L687.5,700.0 M77.5,700.0 L77.6,700.5 M336.0,700.0 L336.5,762.0 M546.2,295.0 L553.8,293.8 L565.0,295.0 L572.5,296.2 L581.2,290.0 L592.5,288.8 L605.0,286.2 L612.5,286.2 L622.5,291.2 L630.0,293.8 L635.0,298.8 L640.0,305.0 L642.5,312.5 L647.5,320.0 L653.8,324.5 M239.6,242.9 L240.5,251.5 L241.6,260.5 L240.0,262.5 M75.0,678.6 L75.0,689.2 L77.8,689.6 L80.4,727.4 L82.5,762.0 M246.5,424.5 L247.5,430.0 L249.5,437.0 L249.0,443.0 L247.5,447.0 L246.5,453.0 L245.0,460.0 L244.0,466.0 L243.5,472.0 L242.0,477.0 L240.5,481.0 L237.0,484.0 L236.5,490.0 L237.0,500.0 M480.0,508.8 L485.0,510.0 L488.8,512.5 L492.5,513.8 L496.2,512.5 L497.5,508.8 L498.8,505.0 L500.6,501.2 L501.2,500.0 M518.8,500.0 L521.2,502.5 L525.0,505.0 L528.8,506.2 L531.2,507.5 L532.5,510.0 L535.0,512.5 L538.8,513.8 L541.2,516.2 L542.5,518.8 L545.0,517.5 L547.5,515.0 L550.0,516.2 L551.2,518.8 L555.0,521.2 L560.0,521.9 L562.5,522.5 L562.5,526.2 L565.0,527.5 L567.5,529.4 L571.2,530.0 L575.0,530.6 L578.8,531.2 L580.0,531.5 M580.0,532.5 L583.8,536.2 L588.8,537.5 L592.5,541.2 L596.2,543.8 L601.2,543.1 L605.0,542.5 L608.8,541.9 L610.0,543.8 L610.6,547.5 L610.6,551.2 L610.0,555.0 L607.5,557.5 L605.0,558.8 L602.5,560.0 L603.1,562.5 L603.8,565.0 L602.5,567.5 L601.9,570.0 L602.5,575.0 L603.1,576.2 L601.9,577.5 L600.0,581.2 L599.4,585.0 L601.9,587.5 L604.4,586.2 L606.2,585.0 L609.4,585.0 L610.0,582.5 L608.8,580.0 L606.2,578.1 L603.1,576.9 M610.6,551.2 L612.5,552.5 L613.8,555.0 L615.6,554.4 L616.2,556.2 L613.8,557.5 L611.2,556.9 L610.6,553.8 M602.5,560.0 L603.8,561.2 L604.4,563.8 L603.1,566.2"/>
<path fill="#222" stroke="none" d="M610.6,551.2 L612.5,552.5 L613.8,555.0 L615.6,554.4 L616.2,556.2 L613.8,557.5 L611.2,556.9 L610.6,553.8Z M602.5,559.8 L604.5,560.5 L605.0,563.8 L603.8,566.5 L602.9,563.1Z"/>
<g fill="none" stroke="#000" stroke-width="1.25" stroke-dasharray="1.2 1.6">
<path d="M48.50,279.24 L59.32,278.53 L70.13,277.84 L80.95,277.18 L91.77,276.54 L102.58,275.93 L113.40,275.34 L124.22,274.78 L135.03,274.24 L145.85,273.72 L156.67,273.23 L167.48,272.77 L178.30,272.32 L189.12,271.91 L199.93,271.51 L210.75,271.14 L221.57,270.80 L232.38,270.47 L243.20,270.18 L254.02,269.91 L264.83,269.66 L275.65,269.43 L286.47,269.23 L297.28,269.06 L308.10,268.90 L318.92,268.78 L329.73,268.67 L340.55,268.59 L351.37,268.54 L362.18,268.51 L373.00,268.50 L383.82,268.52 L394.63,268.56 L405.45,268.63 L416.27,268.72 L427.08,268.83 L437.90,268.97 L448.72,269.13 L459.53,269.32 L470.35,269.53 L481.17,269.76 L491.98,270.02 L502.80,270.31 L513.62,270.61 L524.43,270.95 L535.25,271.30 L546.07,271.68 L556.88,272.09 L567.70,272.52 L578.52,272.97 L589.33,273.45 L600.15,273.95 L610.97,274.48 L621.78,275.03 L632.60,275.60 L643.42,276.20 L654.23,276.82 L665.05,277.47 L675.87,278.14 L686.68,278.84 L697.50,279.56"/><path d="M48.50,613.75 L59.32,612.99 L70.13,612.25 L80.95,611.54 L91.77,610.86 L102.58,610.20 L113.40,609.57 L124.22,608.96 L135.03,608.38 L145.85,607.83 L156.67,607.30 L167.48,606.80 L178.30,606.32 L189.12,605.88 L199.93,605.45 L210.75,605.05 L221.57,604.68 L232.38,604.34 L243.20,604.02 L254.02,603.73 L264.83,603.46 L275.65,603.22 L286.47,603.00 L297.28,602.81 L308.10,602.65 L318.92,602.51 L329.73,602.40 L340.55,602.32 L351.37,602.26 L362.18,602.23 L373.00,602.22 L383.82,602.24 L394.63,602.28 L405.45,602.35 L416.27,602.45 L427.08,602.57 L437.90,602.72 L448.72,602.89 L459.53,603.10 L470.35,603.32 L481.17,603.57 L491.98,603.85 L502.80,604.16 L513.62,604.49 L524.43,604.85 L535.25,605.23 L546.07,605.64 L556.88,606.07 L567.70,606.53 L578.52,607.02 L589.33,607.53 L600.15,608.07 L610.97,608.64 L621.78,609.23 L632.60,609.84 L643.42,610.49 L654.23,611.16 L665.05,611.85 L675.87,612.57 L686.68,613.32 L697.50,614.10"/><path d="M234.5,111.5 L252.2,761.25"/><path d="M535.2,111.5 L513.8,761.25"/>
</g>
</g>
<rect x="48.5" y="111.5" width="649" height="649.75" fill="none" stroke="#000" stroke-width="1.1"/>
<g font-size="13.89">
<text x="8" y="283.8">30°S</text>
<text x="8" y="617.8">35°S</text>
<text x="253" y="778" text-anchor="middle">65°W</text>
<text x="514" y="778" text-anchor="middle">60°W</text>
</g>
<rect x="710" y="672.13" width="26" height="59.37" fill="#fdece5"/><rect x="710" y="613.06" width="26" height="59.37" fill="#f4d9cc"/><rect x="710" y="553.99" width="26" height="59.37" fill="#fdbba0"/><rect x="710" y="494.92" width="26" height="59.37" fill="#fc9373"/><rect x="710" y="435.85" width="26" height="59.37" fill="#fb7b5b"/><rect x="710" y="376.78" width="26" height="59.37" fill="#f8603f"/><rect x="710" y="317.71" width="26" height="59.37" fill="#e9392b"/><rect x="710" y="258.64" width="26" height="59.37" fill="#cd1b1f"/><rect x="710" y="199.57" width="26" height="59.37" fill="#a81016"/><path d="M710,199.87 L710,140.5 L723,111.5 L736,140.5 L736,199.87 Z" fill="#74000f"/><path d="M710,731.2 L723,759.5 L736,731.2 Z" fill="#ffffff"/><path d="M710,140.5 L723,111.5 L736,140.5 L736,731.2 L723,759.5 L710,731.2 Z" fill="none" stroke="#000" stroke-width="0.9"/>
<g font-size="10.4"><line x1="736" y1="731.70" x2="741" y2="731.70" stroke="#000" stroke-width="1.1"/><text x="746" y="735.10">0</text><line x1="736" y1="672.63" x2="741" y2="672.63" stroke="#000" stroke-width="1.1"/><text x="746" y="676.03">300</text><line x1="736" y1="613.56" x2="741" y2="613.56" stroke="#000" stroke-width="1.1"/><text x="746" y="616.96">600</text><line x1="736" y1="554.49" x2="741" y2="554.49" stroke="#000" stroke-width="1.1"/><text x="746" y="557.89">900</text><line x1="736" y1="495.42" x2="741" y2="495.42" stroke="#000" stroke-width="1.1"/><text x="746" y="498.82">1200</text><line x1="736" y1="436.35" x2="741" y2="436.35" stroke="#000" stroke-width="1.1"/><text x="746" y="439.75">1500</text><line x1="736" y1="377.28" x2="741" y2="377.28" stroke="#000" stroke-width="1.1"/><text x="746" y="380.68">1800</text><line x1="736" y1="318.21" x2="741" y2="318.21" stroke="#000" stroke-width="1.1"/><text x="746" y="321.61">2100</text><line x1="736" y1="259.14" x2="741" y2="259.14" stroke="#000" stroke-width="1.1"/><text x="746" y="262.54">2400</text><line x1="736" y1="200.07" x2="741" y2="200.07" stroke="#000" stroke-width="1.1"/><text x="746" y="203.47">2700</text><line x1="736" y1="141.00" x2="741" y2="141.00" stroke="#000" stroke-width="1.1"/><text x="746" y="144.40">3000</text></g>
<circle cx="667.6" cy="42.0" r="22" fill="#fff" stroke="#4d4d4d" stroke-width="1.1"/>
<circle cx="667.6" cy="42.0" r="20.6" fill="none" stroke="#aaa" stroke-width="0.5"/>
<circle cx="667.6" cy="42.0" r="19.0" fill="none" stroke="#9a9a9a" stroke-width="1.6" stroke-dasharray="0.8 0.9"/>
<circle cx="667.6" cy="42.0" r="17.2" fill="none" stroke="#b5b5b5" stroke-width="0.5"/>
<path d="M661.40,36.18 L664.25,35.23 L668.05,35.70 L670.90,34.75 L671.85,33.80 L674.70,33.33 L678.50,33.56 L681.35,34.28 L683.73,36.18 L684.20,39.50 L684.20,43.30 L683.25,47.10 L682.30,49.95 L680.40,52.80 L678.50,55.18 L676.60,57.08 L673.75,58.50 L669.95,58.98 L665.68,58.98 L661.88,58.03 L659.03,56.60 L657.13,54.23 L656.18,51.85 L654.75,49.00 L653.80,47.58 L654.75,45.68 L657.13,44.73 L659.50,43.78 L660.93,41.88 L661.40,39.50 L661.40,37.13Z" fill="#2f6cf0"/>
<path d="M662.26,36.79 L662.26,39.50 L662.25,39.59 L662.24,39.67 L661.76,42.04 L661.75,42.12 L661.72,42.19 L661.69,42.26 L661.65,42.33 L661.61,42.39 L660.19,44.29 L660.14,44.35 L660.08,44.41 L660.02,44.46 L659.96,44.50 L659.89,44.54 L659.82,44.57 L655.37,46.35 L654.79,47.52 L655.46,48.53 L655.52,48.62 L656.94,51.47 L656.97,51.54 L657.87,53.79 L659.58,55.92 L662.17,57.22 L665.78,58.12 L669.90,58.12 L673.50,57.67 L676.10,56.38 L677.87,54.61 L679.71,52.30 L681.53,49.57 L682.43,46.86 L683.35,43.20 L683.35,39.56 L682.93,36.63 L680.97,35.06 L678.37,34.41 L674.75,34.18 L672.26,34.60 L671.51,35.36 L671.45,35.41 L671.39,35.46 L671.32,35.50 L671.25,35.53 L671.17,35.56 L668.32,36.51 L668.25,36.53 L668.17,36.55 L668.10,36.55 L668.02,36.56 L667.95,36.55 L664.34,36.10 L662.26,36.79Z" fill="#3cc8d8"/>
<path d="M663.54,37.72 L663.54,39.50 L663.53,39.71 L663.50,39.92 L663.02,42.30 L662.98,42.48 L662.91,42.66 L662.84,42.84 L662.74,43.00 L662.64,43.16 L661.21,45.06 L661.09,45.21 L660.95,45.35 L660.80,45.47 L660.64,45.58 L660.47,45.68 L660.30,45.76 L656.30,47.36 L656.27,47.42 L656.53,47.82 L656.66,48.05 L658.09,50.90 L658.16,51.06 L658.99,53.14 L660.40,54.90 L662.62,56.01 L665.94,56.84 L669.82,56.84 L673.12,56.43 L675.34,55.32 L676.91,53.75 L678.68,51.54 L680.37,49.00 L681.20,46.50 L682.07,43.04 L682.07,39.65 L681.73,37.32 L680.38,36.24 L678.17,35.68 L674.81,35.47 L672.88,35.80 L672.41,36.26 L672.27,36.40 L672.11,36.52 L671.94,36.62 L671.76,36.71 L671.58,36.78 L668.73,37.73 L668.54,37.78 L668.36,37.82 L668.17,37.84 L667.98,37.84 L667.79,37.82 L664.47,37.41 L663.54,37.72Z" fill="#70d870"/>
<path d="M658.94,48.35 L659.79,50.05 L659.92,50.35 L660.65,52.17 L661.63,53.39 L663.29,54.22 L666.17,54.94 L669.70,54.94 L672.57,54.58 L674.21,53.76 L675.49,52.48 L677.14,50.42 L678.64,48.16 L679.37,45.97 L680.17,42.80 L680.17,39.79 L679.96,38.33 L679.52,37.98 L677.88,37.57 L674.91,37.38 L673.79,37.57 L673.76,37.61 L673.48,37.86 L673.18,38.08 L672.86,38.28 L672.53,38.45 L672.18,38.58 L669.33,39.53 L668.98,39.63 L668.63,39.70 L668.27,39.73 L667.91,39.74 L667.55,39.71 L665.44,39.44 L665.44,39.50 L665.42,39.90 L665.36,40.29 L664.89,42.67 L664.80,43.02 L664.68,43.36 L664.54,43.69 L664.36,44.00 L664.16,44.30 L662.73,46.20 L662.50,46.48 L662.24,46.74 L661.96,46.98 L661.66,47.19 L661.34,47.37 L661.00,47.53 L658.94,48.35Z" fill="#b4e440"/>
<path d="M661.87,49.48 L661.91,49.56 L662.52,51.08 L663.00,51.69 L664.03,52.20 L666.44,52.80 L669.57,52.80 L671.94,52.51 L672.95,52.00 L673.89,51.05 L675.41,49.15 L676.71,47.21 L677.32,45.37 L678.03,42.54 L678.03,39.94 L678.01,39.81 L677.55,39.69 L675.02,39.53 L674.75,39.58 L674.39,39.85 L673.90,40.15 L673.39,40.40 L672.86,40.61 L670.01,41.56 L669.48,41.71 L668.93,41.81 L668.39,41.87 L667.84,41.87 L667.29,41.83 L667.24,41.82 L666.98,43.09 L666.85,43.62 L666.67,44.14 L666.45,44.65 L666.18,45.13 L665.87,45.58 L664.44,47.48 L664.08,47.92 L663.69,48.32 L663.26,48.68 L662.80,49.00 L662.31,49.28 L661.87,49.48Z" fill="#e6e428"/>
<circle cx="662.83" cy="43.30" r="1.05" fill="#f2a024"/>
<circle cx="667.10" cy="48.05" r="1.24" fill="#f2a024"/>
<circle cx="670.43" cy="52.33" r="1.05" fill="#f2a024"/>
<circle cx="675.18" cy="53.28" r="1.14" fill="#f2a024"/>
<circle cx="660.93" cy="56.13" r="1.24" fill="#f2a024"/>
<circle cx="682.78" cy="43.78" r="0.86" fill="#f2a024"/>
<circle cx="665.20" cy="37.60" r="0.67" fill="#f2a024"/>
<path d="M671.38,38.55 L672.80,39.03 L674.70,40.93 L676.60,42.83 L678.50,45.20 L680.40,47.10 L681.59,48.29 L679.45,48.76 L677.08,48.29 L675.18,47.10 L673.99,45.20 L672.80,43.30 L671.85,41.40 L671.38,39.50Z" fill="#fff"/>
<path d="M657.60,48.05 L659.50,47.96 L660.07,49.95 L659.26,51.95 L657.98,51.14 L658.31,49.48Z" fill="#fff"/>
<path d="M645.19,36.00 L644.22,36.76 L643.57,37.65 L643.01,38.60 L642.55,39.59 L642.15,40.61 L641.83,41.66 L641.58,42.74 L641.40,43.83 L641.29,44.94 L641.24,46.06 L641.27,47.18 L641.36,48.30 L641.53,49.41 L641.76,50.52 L642.06,51.61 L642.43,52.69 L642.86,53.74 L643.35,54.76 L643.91,55.75 L644.52,56.70 L645.19,57.62 L645.92,58.49 L646.69,59.31 L647.51,60.09 L648.38,60.81 L649.28,61.47 L650.23,62.07 L651.20,62.62 L652.20,63.10 L653.23,63.51 L654.28,63.85 L655.34,64.12 L656.42,64.31 L657.51,64.41 L658.61,64.40 L659.73,64.22 L660.77,64.17 L661.69,64.44 L662.63,64.66 L663.57,64.85 L663.61,64.65 L662.67,64.47 L661.74,64.24 L660.83,63.98 L659.92,63.68 L659.03,63.34 L658.15,62.97 L657.29,62.56 L656.45,62.12 L655.63,61.64 L654.82,61.12 L654.04,60.58 L653.28,60.00 L652.55,59.39 L651.84,58.75 L651.16,58.09 L650.51,57.39 L649.88,56.67 L649.29,55.92 L648.73,55.15 L648.20,54.36 L647.71,53.54 L647.25,52.71 L646.82,51.86 L646.43,50.99 L646.07,50.10 L645.76,49.20 L645.48,48.29 L645.24,47.37 L645.03,46.44 L644.87,45.50 L644.74,44.55 L644.66,43.60 L644.61,42.65 L644.60,41.70 L644.63,40.75 L644.71,39.80 L644.82,38.85 L644.97,37.91 L645.16,36.97 L645.38,36.05Z" fill="#111"/>
<path d="M690.01,36.00 L690.24,36.93 L690.43,37.87 L690.58,38.82 L691.06,39.74 L691.70,40.68 L692.17,41.68 L692.54,42.71 L692.83,43.76 L693.03,44.84 L693.17,45.93 L693.23,47.04 L693.22,48.15 L693.14,49.26 L692.99,50.37 L692.77,51.47 L692.48,52.56 L692.13,53.63 L691.71,54.68 L691.22,55.71 L690.68,56.70 L690.07,57.66 L689.41,58.58 L688.69,59.46 L687.92,60.30 L687.11,61.08 L686.24,61.82 L685.34,62.50 L684.40,63.12 L683.42,63.68 L682.42,64.17 L681.38,64.61 L680.33,64.97 L679.26,65.27 L678.18,65.50 L677.09,65.65 L676.00,65.72 L674.91,65.72 L673.82,65.62 L672.73,65.40 L671.63,64.85 L671.59,64.65 L672.53,64.47 L673.46,64.24 L674.37,63.98 L675.28,63.68 L676.17,63.34 L677.05,62.97 L677.91,62.56 L678.75,62.12 L679.57,61.64 L680.38,61.12 L681.16,60.58 L681.92,60.00 L682.65,59.39 L683.36,58.75 L684.04,58.09 L684.69,57.39 L685.32,56.67 L685.91,55.92 L686.47,55.15 L687.00,54.36 L687.49,53.54 L687.95,52.71 L688.38,51.86 L688.77,50.99 L689.13,50.10 L689.44,49.20 L689.72,48.29 L689.96,47.37 L690.17,46.44 L690.33,45.50 L690.46,44.55 L690.54,43.60 L690.59,42.65 L690.60,41.70 L690.57,40.75 L690.49,39.80 L690.38,38.85 L690.23,37.91 L690.04,36.97 L689.82,36.05Z" fill="#111"/>
<path d="M642.49,37.57 L639.95,35.11 M642.10,41.55 L639.21,39.52 M642.35,45.55 L639.17,43.99 M643.21,49.46 L639.83,48.41 M644.68,53.18 L641.18,52.68 M646.71,56.63 L643.17,56.68 M649.26,59.71 L645.77,60.32 M652.25,62.37 L648.90,63.51 M655.63,64.52 L652.50,66.17 M659.30,66.11 L656.46,68.23 M692.71,37.57 L695.25,35.11 M693.10,41.55 L695.99,39.52 M692.85,45.55 L696.03,43.99 M691.99,49.46 L695.37,48.41 M690.52,53.18 L694.02,52.68 M688.49,56.63 L692.03,56.68 M685.94,59.71 L689.43,60.32 M682.95,62.37 L686.30,63.51 M679.57,64.52 L682.70,66.17 M675.90,66.11 L678.74,68.23" stroke="#fff" stroke-width="0.5" fill="none"/>
<path d="M661.5,69.8 L673,65.5 M662.5,65.5 L674,69.8" stroke="#222" stroke-width="1.2" fill="none"/>
<g>
<text style="font-family:'Liberation Sans',sans-serif" x="699.6" y="33.4" font-size="18.3" fill="#3c3c3c" textLength="55.2" lengthAdjust="spacingAndGlyphs">Grupo de</text>
<text style="font-family:'Liberation Sans',sans-serif" x="699.6" y="49.9" font-size="18.3" fill="#3c3c3c" textLength="53.4" lengthAdjust="spacingAndGlyphs">Usuarios</text>
<text style="font-family:'Liberation Sans',sans-serif" x="699.6" y="64" font-size="14.6" font-weight="bold" fill="#000" stroke="#000" stroke-width="0.6" textLength="27.2" lengthAdjust="spacingAndGlyphs">WRF</text>
</g>
<text transform="translate(788.7,436.9) rotate(-90)" font-size="13.89" text-anchor="middle">J/kg</text>
</svg>
</body></html>
